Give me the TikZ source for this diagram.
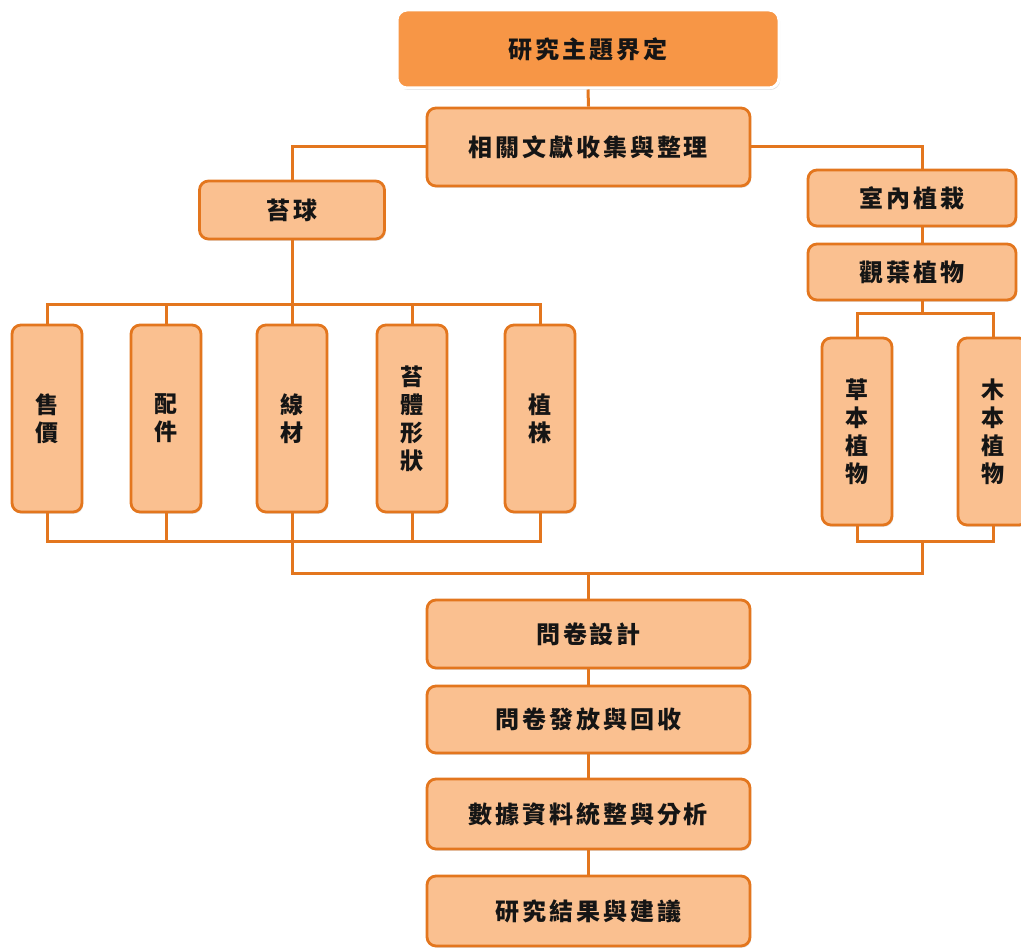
\documentclass[tikz,border=0pt]{standalone}
\usepackage{fontspec}
\newfontfamily\cjkh{Noto Sans CJK TC}[LetterSpace=12]
\newfontfamily\cjkv{Noto Sans CJK TC}
\usetikzlibrary{shadows}
\definecolor{boxfill}{HTML}{FAC090}
\definecolor{boxline}{HTML}{E3761E}
\definecolor{topfill}{HTML}{F79646}
\definecolor{txt}{HTML}{151515}
\tikzset{
  lbox/.style={draw=boxline, fill=boxfill, line width=2.8pt, rounded corners=9pt,
    inner sep=0pt, text=txt,
    drop shadow={shadow xshift=1.2pt, shadow yshift=-1.8pt, opacity=0.22}},
  hbox/.style={lbox, font=\cjkh\bfseries\fontsize{24}{28}\selectfont},
  vbox/.style={lbox, align=center, minimum width=70pt, minimum height=187pt,
    font=\cjkv\bfseries\fontsize{23}{28}\selectfont},
  topbox/.style={draw=white, fill=topfill, line width=3pt, rounded corners=10pt,
    inner sep=0pt, text=txt, font=\cjkh\bfseries\fontsize{24}{28}\selectfont,
    drop shadow={shadow xshift=1.2pt, shadow yshift=-2pt, opacity=0.25}},
  conn/.style={draw=boxline, line width=3pt}
}
\begin{document}
\begin{tikzpicture}[x=1pt, y=-1pt]
\useasboundingbox (0,0) rectangle (1021,949);
\clip (0,0) rectangle (1021,949);
% main column
\node[topbox, minimum width=382pt, minimum height=78pt] (top) at (588,49) {研究主題界定};
\node[hbox, minimum width=323pt, minimum height=78pt] (lit) at (588.5,147) {相關文獻收集與整理};
% left branch
\node[hbox, minimum width=185pt, minimum height=58pt] (moss) at (292,210) {苔球};
\node[vbox] (c1) at (47,418.5) {售\\價};
\node[vbox] (c2) at (166,418.5) {配\\件};
\node[vbox] (c3) at (292,418.5) {線\\材};
\node[vbox] (c4) at (412,418.5) {苔\\體\\形\\狀};
\node[vbox] (c5) at (540,418.5) {植\\株};
% right branch
\node[hbox, minimum width=208pt, minimum height=56pt] (indoor) at (912,198) {室內植栽};
\node[hbox, minimum width=208pt, minimum height=56pt] (foliage) at (912,272) {觀葉植物};
\node[vbox] (h1) at (857,431.5) {草\\本\\植\\物};
\node[vbox] (h2) at (993,431.5) {木\\本\\植\\物};
% lower column
\node[hbox, minimum width=323pt, minimum height=68pt] (q1) at (588.5,634) {問卷設計};
\node[hbox, minimum width=323pt, minimum height=67pt] (q2) at (588.5,719.5) {問卷發放與回收};
\node[hbox, minimum width=323pt, minimum height=70pt] (q3) at (588.5,814) {數據資料統整與分析};
\node[hbox, minimum width=323pt, minimum height=70pt] (q4) at (588.5,911) {研究結果與建議};
% bus coordinates
\coordinate (busL) at (292,305);
\coordinate (busLb) at (292,542);
\coordinate (busR) at (922,314);
\coordinate (busRb) at (922,542);
\coordinate (busM) at (588.5,574);
% connectors
\draw[conn] (top.south) -- (lit.north);
\draw[conn] (lit.west) -| (moss.north);
\draw[conn] (lit.east) -| ([xshift=10pt]indoor.north);
\draw[conn] ([xshift=10pt]indoor.south) -- ([xshift=10pt]foliage.north);
\draw[conn] (moss.south) -- (busL);
\foreach \c in {c1,c2,c3,c4,c5} {
  \draw[conn] (\c.north) |- (busL);
  \draw[conn] (\c.south) |- (busLb);
}
\draw[conn] ([xshift=10pt]foliage.south) -- (busR);
\foreach \c in {h1,h2} {
  \draw[conn] (\c.north) |- (busR);
  \draw[conn] (\c.south) |- (busRb);
}
\draw[conn] (busLb) |- (busM);
\draw[conn] (busRb) |- (busM);
\draw[conn] (busM) -- (q1.north);
\draw[conn] (q1.south) -- (q2.north);
\draw[conn] (q2.south) -- (q3.north);
\draw[conn] (q3.south) -- (q4.north);
\end{tikzpicture}
\end{document}
